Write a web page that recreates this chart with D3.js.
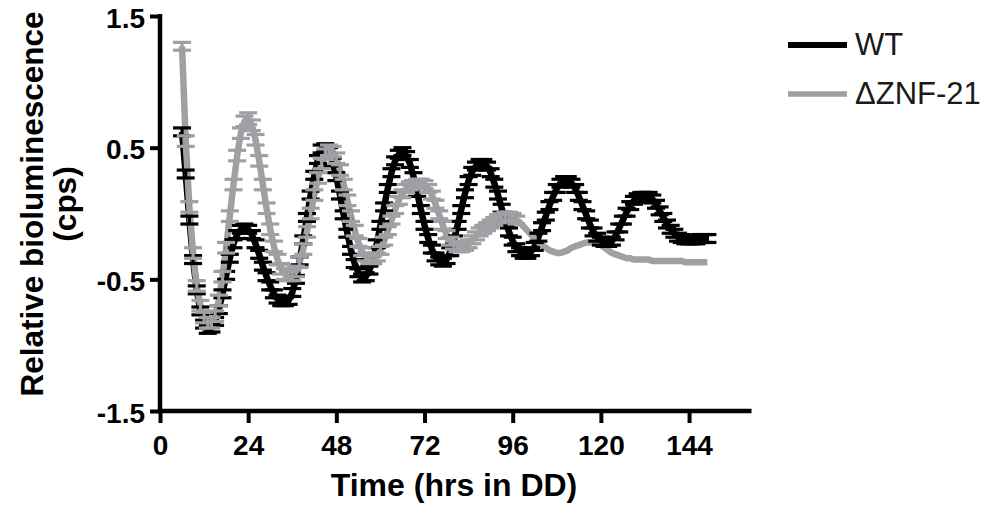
<!DOCTYPE html>
<html>
<head>
<meta charset="utf-8">
<script src="https://cdn.jsdelivr.net/npm/d3@7"></script>
<style>
  html, body { margin: 0; padding: 0; background: #fff; }
  svg { display: block; }
</style>
</head>
<body>
<svg id="chart" width="981" height="506"></svg>
<script>
// ---------------- DATA ----------------
const seriesNames = ["WT", "\u0394ZNF-21"];
const hours = d3.range(6, 150); // sampling times (hrs in DD), 6..149

const wtValues = [
  0.62, 0.30, -0.05, -0.35, -0.58, -0.74, -0.84, -0.88, -0.87, -0.82, -0.73, -0.61,
  -0.47, -0.34, -0.23, -0.16, -0.12, -0.11, -0.12, -0.16, -0.23, -0.31, -0.40, -0.48,
  -0.55, -0.61, -0.65, -0.67, -0.67, -0.66, -0.60, -0.50, -0.36, -0.20, -0.03, 0.14,
  0.29, 0.41, 0.49, 0.50, 0.47, 0.39, 0.28, 0.14, -0.01, -0.15, -0.28, -0.38,
  -0.45, -0.49, -0.48, -0.43, -0.35, -0.23, -0.09, 0.05, 0.19, 0.31, 0.40, 0.45,
  0.47, 0.44, 0.38, 0.28, 0.16, 0.03, -0.09, -0.19, -0.27, -0.33, -0.36, -0.37,
  -0.35, -0.29, -0.20, -0.09, 0.03, 0.15, 0.25, 0.32, 0.36, 0.38, 0.38, 0.36,
  0.31, 0.23, 0.14, 0.04, -0.06, -0.14, -0.21, -0.26, -0.29, -0.31, -0.31, -0.29,
  -0.25, -0.18, -0.10, -0.02, 0.06, 0.13, 0.19, 0.23, 0.25, 0.25, 0.23, 0.19,
  0.13, 0.06, -0.01, -0.08, -0.14, -0.18, -0.21, -0.22, -0.22, -0.21, -0.17, -0.11,
  -0.05, 0.01, 0.06, 0.10, 0.12, 0.13, 0.13, 0.13, 0.11, 0.07, 0.02, -0.03,
  -0.08, -0.12, -0.15, -0.18, -0.19, -0.20, -0.20, -0.20, -0.20, -0.19, -0.19, -0.19
];
const wtErr = [
  0.03, 0.03, 0.03, 0.03, 0.03, 0.03, 0.03, 0.03, 0.03, 0.03, 0.03, 0.03,
  0.03, 0.03, 0.03, 0.03, 0.03, 0.03, 0.03, 0.03, 0.03, 0.03, 0.03, 0.03,
  0.03, 0.03, 0.03, 0.03, 0.03, 0.03, 0.03, 0.03, 0.03, 0.03, 0.03, 0.03,
  0.03, 0.03, 0.03, 0.03, 0.03, 0.03, 0.03, 0.03, 0.03, 0.03, 0.03, 0.03,
  0.03, 0.03, 0.03, 0.03, 0.03, 0.03, 0.03, 0.03, 0.03, 0.03, 0.03, 0.03,
  0.03, 0.03, 0.03, 0.03, 0.03, 0.03, 0.03, 0.03, 0.03, 0.03, 0.03, 0.03,
  0.03, 0.03, 0.03, 0.03, 0.03, 0.03, 0.03, 0.03, 0.03, 0.03, 0.03, 0.03,
  0.03, 0.03, 0.03, 0.03, 0.03, 0.03, 0.03, 0.03, 0.03, 0.03, 0.03, 0.03,
  0.03, 0.03, 0.03, 0.03, 0.03, 0.03, 0.03, 0.03, 0.03, 0.03, 0.03, 0.03,
  0.03, 0.03, 0.03, 0.03, 0.03, 0.03, 0.03, 0.03, 0.03, 0.03, 0.03, 0.03,
  0.03, 0.03, 0.03, 0.03, 0.03, 0.03, 0.03, 0.03, 0.03, 0.03, 0.03, 0.03,
  0.03, 0.03, 0.03, 0.03, 0.03, 0.03, 0.03, 0.03, 0.03, 0.03, 0.03, 0.03
];
const znfValues = [
  1.27, 0.55, 0.05, -0.30, -0.55, -0.70, -0.79, -0.83, -0.83, -0.78, -0.66, -0.48,
  -0.26, -0.02, 0.22, 0.44, 0.61, 0.70, 0.72, 0.67, 0.56, 0.40, 0.22, 0.04,
  -0.12, -0.25, -0.35, -0.42, -0.46, -0.47, -0.47, -0.44, -0.37, -0.27, -0.14, 0.00,
  0.14, 0.27, 0.38, 0.45, 0.48, 0.47, 0.42, 0.33, 0.22, 0.10, -0.02, -0.13,
  -0.22, -0.29, -0.33, -0.35, -0.35, -0.33, -0.28, -0.21, -0.13, -0.05, 0.03, 0.10,
  0.15, 0.19, 0.21, 0.22, 0.23, 0.23, 0.22, 0.19, 0.14, 0.07, -0.01, -0.09,
  -0.16, -0.21, -0.24, -0.26, -0.26, -0.25, -0.23, -0.20, -0.17, -0.14, -0.12, -0.10,
  -0.08, -0.06, -0.04, -0.03, -0.02, -0.02, -0.03, -0.05, -0.07, -0.10, -0.13, -0.16,
  -0.19, -0.22, -0.24, -0.26, -0.28, -0.29, -0.30, -0.30, -0.29, -0.28, -0.26, -0.25,
  -0.24, -0.23, -0.22, -0.22, -0.22, -0.23, -0.24, -0.26, -0.28, -0.30, -0.31, -0.32,
  -0.33, -0.34, -0.34, -0.35, -0.35, -0.35, -0.35, -0.35, -0.36, -0.36, -0.36, -0.36,
  -0.36, -0.36, -0.36, -0.36, -0.36, -0.37, -0.37, -0.37, -0.37, -0.37, -0.37, -0.37
];
const znfErr = [
  0.03, 0.04, 0.04, 0.04, 0.04, 0.04, 0.04, 0.04, 0.04, 0.04, 0.04, 0.04,
  0.04, 0.04, 0.04, 0.04, 0.04, 0.04, 0.045, 0.04, 0.04, 0.04, 0.04, 0.04,
  0.04, 0.04, 0.04, 0.04, 0.04, 0.04, 0.04, 0.04, 0.04, 0.04, 0.04, 0.04,
  0.04, 0.04, 0.04, 0.04, 0.04, 0.04, 0.04, 0.04, 0.04, 0.04, 0.04, 0.04,
  0.03, 0.03, 0.03, 0.03, 0.03, 0.03, 0.03, 0.03, 0.03, 0.03, 0.03, 0.03,
  0.03, 0.03, 0.03, 0.03, 0.03, 0.03, 0.03, 0.03, 0.03, 0.03, 0.03, 0.03,
  0.03, 0.03, 0.03, 0.03, 0.03, 0.03, 0.03, 0.03, 0.03, 0.03, 0.03, 0.03,
  0.03, 0.03, 0.03, 0.03, 0.03, 0.03, 0.03, 0.03, 0, 0, 0, 0,
  0, 0, 0, 0, 0, 0, 0, 0, 0, 0, 0, 0,
  0, 0, 0, 0, 0, 0, 0, 0, 0, 0, 0, 0,
  0, 0, 0, 0, 0, 0, 0, 0, 0, 0, 0, 0,
  0, 0, 0, 0, 0, 0, 0, 0, 0, 0, 0, 0
];
const xTicks = [0, 24, 48, 72, 96, 120, 144];
const yTicks = [-1.5, -0.5, 0.5, 1.5];
const colors = ["#000000", "#a0a0a4"];

// ---------------- CHART ----------------
const svg = d3.select("#chart");
const FONT = "'Liberation Sans', Arial, Helvetica, sans-serif";

const x = d3.scaleLinear().domain([0, 161]).range([160, 751.5]);
const y = d3.scaleLinear().domain([-1.5, 1.5]).range([411, 16]);

const series = [
  { name: seriesNames[0], values: wtValues, err: wtErr, color: colors[0], width: 6.5 },
  { name: seriesNames[1], values: znfValues, err: znfErr, color: colors[1], width: 6.5 }
].map(s => ({ ...s, points: hours.map((h, i) => ({ h, v: s.values[i], e: s.err[i] })) }));

const line = d3.line().x(d => x(d.h)).y(d => y(d.v));

// lines: WT then ΔZNF-21
const gLines = svg.append("g");
series.forEach(s => {
  gLines.append("path")
    .datum(s.points)
    .attr("fill", "none")
    .attr("stroke", s.color)
    .attr("stroke-width", s.width)
    .attr("stroke-linejoin", "round")
    .attr("d", line);
});

// error bars
const capHalf = 9;
series.forEach(s => {
  const g = svg.append("g").attr("stroke", s.color).attr("stroke-width", 3.2);
  const pts = s.points.filter(d => d.e > 0);
  g.selectAll("line.v").data(pts).join("line")
    .attr("x1", d => x(d.h)).attr("x2", d => x(d.h))
    .attr("y1", d => y(d.v + d.e)).attr("y2", d => y(d.v - d.e));
  g.selectAll("line.top").data(pts).join("line")
    .attr("x1", d => x(d.h) - capHalf).attr("x2", d => x(d.h) + capHalf)
    .attr("y1", d => y(d.v + d.e)).attr("y2", d => y(d.v + d.e));
  g.selectAll("line.bot").data(pts).join("line")
    .attr("x1", d => x(d.h) - capHalf).attr("x2", d => x(d.h) + capHalf)
    .attr("y1", d => y(d.v - d.e)).attr("y2", d => y(d.v - d.e));
});

// X axis
const xAxis = d3.axisBottom(x).tickValues(xTicks).tickSize(12).tickSizeOuter(0).tickPadding(6);
const gx = svg.append("g").attr("transform", "translate(0,411)").call(xAxis);
gx.select(".domain").attr("stroke", "#000").attr("stroke-width", 4.5)
  .attr("d", `M${x(0) - 2},0H${x(161)}`);
gx.selectAll(".tick line").attr("stroke", "#000").attr("stroke-width", 4);
gx.selectAll(".tick text")
  .attr("fill", "#000")
  .attr("font-family", FONT).attr("font-size", 28).attr("font-weight", "bold")
  .attr("y", 0).attr("dy", 0)
  .attr("transform", "translate(0,44)");

// Y axis
const yAxis = d3.axisLeft(y).tickValues(yTicks).tickSize(10).tickSizeOuter(0)
  .tickFormat(d => String(d)).tickPadding(5);
const gy = svg.append("g").attr("transform", "translate(160,0)").call(yAxis);
gy.select(".domain").attr("stroke", "#000").attr("stroke-width", 4.5)
  .attr("d", `M0,${y(1.5) - 2}V${y(-1.5) + 2}`);
gy.selectAll(".tick line").attr("stroke", "#000").attr("stroke-width", 4);
gy.selectAll(".tick text")
  .attr("fill", "#000")
  .attr("font-family", FONT).attr("font-size", 28).attr("font-weight", "bold")
  .attr("dy", "0.4em");

// axis titles
svg.append("text")
  .attr("x", 454).attr("y", 496)
  .attr("text-anchor", "middle")
  .attr("font-family", FONT).attr("font-size", 32).attr("font-weight", "bold")
  .attr("fill", "#000")
  .text("Time (hrs in DD)");

const yt = svg.append("text")
  .attr("transform", "translate(0,204) rotate(-90)")
  .attr("text-anchor", "middle")
  .attr("font-family", FONT).attr("font-size", 31.5).attr("font-weight", "bold")
  .attr("fill", "#000");
yt.append("tspan").attr("x", 0).attr("y", 43).text("Relative bioluminescence");
yt.append("tspan").attr("x", 0).attr("y", 76).text("(cps)");

// legend
const legend = svg.append("g");
series.forEach((s, i) => {
  const ly = 45 + i * 49;
  legend.append("line")
    .attr("x1", 788).attr("x2", 847)
    .attr("y1", ly).attr("y2", ly)
    .attr("stroke", s.color).attr("stroke-width", i === 0 ? 6 : 5.5);
  legend.append("text")
    .attr("x", 855).attr("y", ly + 10)
    .attr("font-family", FONT).attr("font-size", 31)
    .attr("fill", "#1a1a1a")
    .text(s.name);
});
</script>
</body>
</html>
